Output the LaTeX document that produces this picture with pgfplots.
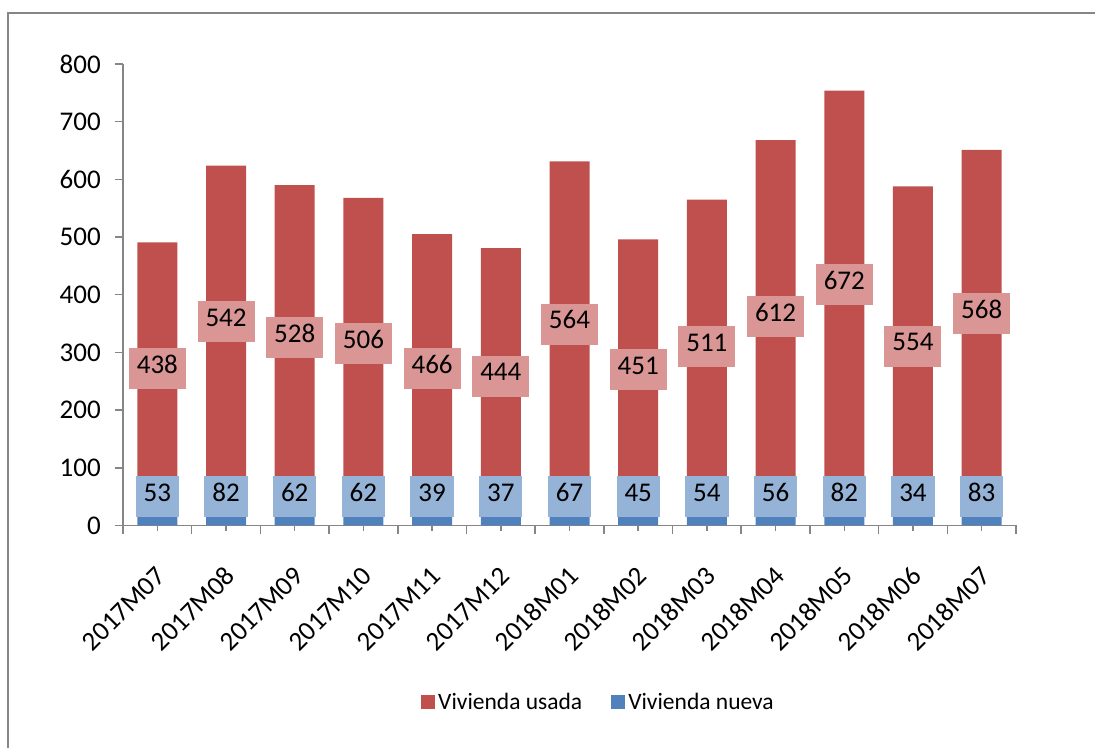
\documentclass[border=0pt]{standalone}
\usepackage{pgfplots}
\pgfplotsset{compat=1.18}
\usepackage{fontspec}
\setmainfont{Carlito}
\definecolor{usada}{HTML}{C0504D}
\definecolor{nueva}{HTML}{4F81BD}
\definecolor{usadal}{HTML}{D99694}
\definecolor{nueval}{HTML}{95B3D7}
\definecolor{axgray}{HTML}{868686}
\newcommand\fbig{\fontsize{27}{30}\selectfont}
\newcommand\fleg{\fontsize{23.5}{28}\selectfont}
\begin{document}
\begin{tikzpicture}[x=1pt,y=1pt]
\useasboundingbox (0,0) rectangle (1095,747);
\draw[axgray, line width=2pt] (8,-5) -- (8,733.5) -- (1100,733.5);
\begin{axis}[
  at={(123pt,221.5pt)}, anchor=south west,
  scale only axis, width=893pt, height=461.5pt,
  ybar stacked, bar width=40pt,
  xmin=-0.5, xmax=12.5, ymin=0, ymax=800,
  axis x line=bottom, axis y line=left,
  axis line style={-, axgray, line width=1.5pt},
  tick align=outside, major tick length=8pt, minor tick length=5pt,
  tick style={axgray, line width=1.5pt},
  xtick={-0.5,0.5,...,12.5}, xticklabels={},
  minor x tick num=1,
  extra x ticks={0,1,...,12},
  extra x tick labels={2017M07,2017M08,2017M09,2017M10,2017M11,2017M12,2018M01,2018M02,2018M03,2018M04,2018M05,2018M06,2018M07},
  extra x tick style={major tick length=0pt, tick label style={font=\fbig, inner sep=0pt, xshift=4pt, yshift=-46pt, rotate=45, anchor=east}},
  ytick={0,100,...,800},
  yticklabel style={font=\fbig, inner sep=0pt, anchor=east, xshift=-14pt},
  /pgf/number format/assume math mode=true,
  reverse legend,
  legend style={at={(0.533,-0.382)}, anchor=center, draw=none, fill=none, font=\fleg,
    legend columns=2, nodes={inner sep=3pt},
    /tikz/every even column/.append style={column sep=26pt}},
]
\addplot[fill=nueva, draw=none, legend image code/.code={\fill[nueva] (0pt,-7pt) rectangle (14pt,7pt);}] coordinates {
(0,53) (1,82) (2,62) (3,62) (4,39) (5,37) (6,67) (7,45) (8,54) (9,56) (10,82) (11,34) (12,83)};
\addlegendentry{Vivienda nueva}
\addplot[fill=usada, draw=none, legend image code/.code={\fill[usada] (0pt,-7pt) rectangle (14pt,7pt);}] coordinates {
(0,438) (1,542) (2,528) (3,506) (4,466) (5,444) (6,564) (7,451) (8,511) (9,612) (10,672) (11,554) (12,568)};
\addlegendentry{Vivienda usada}
\end{axis}
\begin{axis}[
  at={(123pt,221.5pt)}, anchor=south west,
  scale only axis, width=893pt, height=461.5pt,
  xmin=-0.5, xmax=12.5, ymin=0, ymax=800,
  hide axis, clip=false,
  /pgf/number format/assume math mode=true,
  nodes near coords, point meta=explicit,
  every node near coord/.style={anchor=center, font=\fbig, inner xsep=8pt, inner ysep=0pt,
    minimum height=41pt, text height=0.95em, text depth=0pt, text=black},
]
\addplot[draw=none, mark=none, every node near coord/.append style={fill=usadal}] table[meta=v] {
x y v
0 272 438
1 353 542
2 326 528
3 315 506
4 272 466
5 259 444
6 349 564
7 270.5 451
8 309.5 511
9 362 612
10 418 672
11 311 554
12 367 568
};
\addplot[draw=none, mark=none, every node near coord/.append style={fill=nueval}] table[meta=v] {
x y v
0 50 53
1 50 82
2 50 62
3 50 62
4 50 39
5 50 37
6 50 67
7 50 45
8 50 54
9 50 56
10 50 82
11 50 34
12 50 83
};
\end{axis}
\end{tikzpicture}
\end{document}
